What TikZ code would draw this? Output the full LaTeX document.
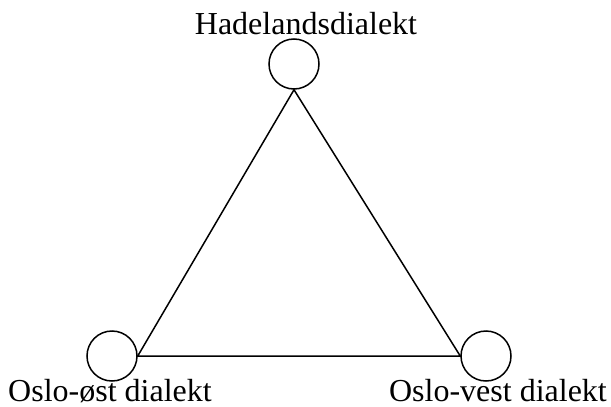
\documentclass[tikz,border=0pt]{standalone}
\usepackage{fontspec}
\setmainfont{Liberation Serif}
\begin{document}
\begin{tikzpicture}[x=1pt,y=-1pt,
  dial/.style={circle,draw,line width=1.5pt,minimum size=50pt,inner sep=0pt},
  lbl/.style={anchor=base,inner sep=0pt,font=\fontsize{32}{38}\selectfont},
  conn/.style={line width=1.5pt}]
\useasboundingbox (0,0) rectangle (611,407);
\node[dial] (h) at (294,64) {};
\node[dial] (o) at (112,356) {};
\node[dial] (v) at (486,356) {};
\node[lbl] (hl) at (306,34) {Hadelandsdialekt};
\node[lbl] (ol) at (110,401) {Oslo-øst dialekt};
\node[lbl] (vl) at (498,401) {Oslo-vest dialekt};
\draw[conn] (h.south) -- (o.east) -- (v.west) -- cycle;
\end{tikzpicture}
\end{document}
